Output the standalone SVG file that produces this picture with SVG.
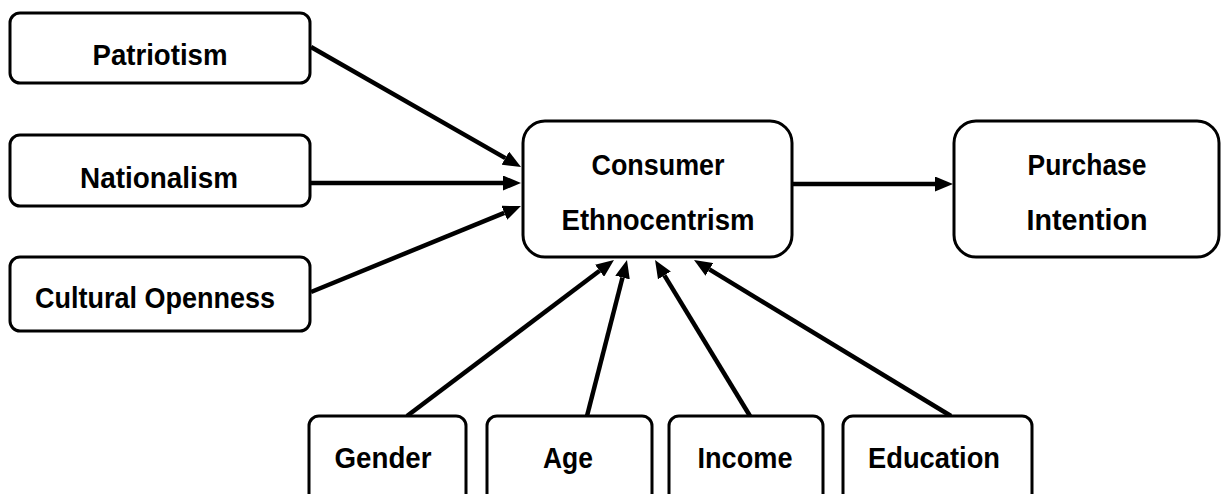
<svg xmlns="http://www.w3.org/2000/svg" width="1221" height="494" viewBox="0 0 1221 494">
<style>
.box{fill:#fff;stroke:#000;stroke-width:3}
.lbl{font-family:"Liberation Sans",Arial,sans-serif;font-weight:bold;font-size:29px;fill:#000;text-anchor:middle}
.edge{stroke:#000;stroke-width:4.5;fill:none;marker-end:url(#ah)}
</style>
<defs>
<marker id="ah" viewBox="0 0 18 15" refX="0" refY="7.5" markerWidth="18" markerHeight="15" markerUnits="userSpaceOnUse" orient="auto">
<path d="M0,0 L18,7.5 L0,15 z" fill="#000"/>
</marker>
</defs>
<rect width="1221" height="494" fill="#fff"/>
<g id="connectors">
<line class="edge" x1="311" y1="47" x2="505.4" y2="158.1"/>
<line class="edge" x1="311" y1="183" x2="503" y2="183"/>
<line class="edge" x1="311" y1="292" x2="504.3" y2="212.8"/>
<line class="edge" x1="407" y1="416" x2="599.6" y2="270.8"/>
<line class="edge" x1="587" y1="416" x2="622.5" y2="277.5"/>
<line class="edge" x1="750" y1="416" x2="664.4" y2="275.4"/>
<line class="edge" x1="951" y1="416" x2="709.4" y2="269.4"/>
<line class="edge" x1="792" y1="184" x2="935" y2="184"/>
</g>
<g id="patriotism"><rect class="box" x="10" y="13" width="300" height="70" rx="10"/><text class="lbl" x="160" y="65" textLength="135" lengthAdjust="spacingAndGlyphs">Patriotism</text></g>
<g id="nationalism"><rect class="box" x="10" y="135" width="300" height="71" rx="10"/><text class="lbl" x="159" y="188" textLength="158" lengthAdjust="spacingAndGlyphs">Nationalism</text></g>
<g id="cultural-openness"><rect class="box" x="10" y="257" width="300" height="74" rx="10"/><text class="lbl" x="155" y="308" textLength="240" lengthAdjust="spacingAndGlyphs">Cultural Openness</text></g>
<g id="consumer-ethnocentrism"><rect class="box" x="523" y="121" width="269" height="136" rx="22"/><text class="lbl" x="658" y="175" textLength="133" lengthAdjust="spacingAndGlyphs">Consumer</text><text class="lbl" x="658" y="230" textLength="193" lengthAdjust="spacingAndGlyphs">Ethnocentrism</text></g>
<g id="purchase-intention"><rect class="box" x="954" y="121" width="265" height="136" rx="22"/><text class="lbl" x="1087" y="175" textLength="119" lengthAdjust="spacingAndGlyphs">Purchase</text><text class="lbl" x="1087" y="230" textLength="121" lengthAdjust="spacingAndGlyphs">Intention</text></g>
<g id="gender"><rect class="box" x="309" y="416" width="157" height="100" rx="10"/><text class="lbl" x="383" y="468" textLength="97" lengthAdjust="spacingAndGlyphs">Gender</text></g>
<g id="age"><rect class="box" x="487" y="416" width="165" height="100" rx="10"/><text class="lbl" x="568" y="468" textLength="50" lengthAdjust="spacingAndGlyphs">Age</text></g>
<g id="income"><rect class="box" x="669" y="416" width="154" height="100" rx="10"/><text class="lbl" x="745" y="468" textLength="95" lengthAdjust="spacingAndGlyphs">Income</text></g>
<g id="education"><rect class="box" x="843" y="416" width="189" height="100" rx="10"/><text class="lbl" x="934" y="468" textLength="132" lengthAdjust="spacingAndGlyphs">Education</text></g>
</svg>
